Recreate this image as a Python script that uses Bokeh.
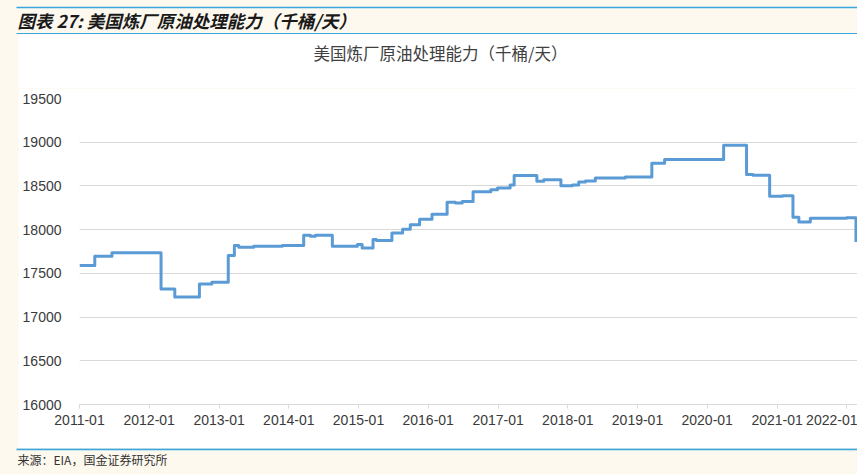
import pandas as pd
from bokeh.plotting import figure
from bokeh.layouts import column, row
from bokeh.models import (Range1d, FixedTicker, DatetimeTickFormatter, Spacer,
                          ColumnDataSource)
from bokeh.core.properties import value
from bokeh.embed import file_html
from bokeh.resources import INLINE

# ---------------- data ----------------
header_title = "图表 27: 美国炼厂原油处理能力（千桶/天）"
chart_title = "美国炼厂原油处理能力（千桶/天）"
source_note = "来源：EIA，国金证券研究所"

# dates at which the weekly capacity series changes level, and the new level (kb/d)
change_dates = [
    "2011-01-01", "2011-03-22", "2011-06-20", "2012-03-03", "2012-05-14",
    "2012-09-20", "2012-11-24", "2013-02-18", "2013-03-22", "2013-04-14",
    "2013-07-01", "2013-11-28", "2014-03-20", "2014-04-24", "2014-05-20",
    "2014-08-17", "2014-12-26", "2015-01-20", "2015-03-18", "2015-04-05",
    "2015-06-25", "2015-08-20", "2015-09-29", "2015-11-17", "2016-01-21",
    "2016-04-09", "2016-05-23", "2016-06-27", "2016-08-23", "2016-11-24",
    "2016-12-29", "2017-03-05", "2017-03-26", "2017-07-23", "2017-08-28",
    "2017-11-26", "2018-01-25", "2018-02-27", "2018-04-03", "2018-05-25",
    "2018-10-29", "2019-03-17", "2019-05-23", "2020-03-27", "2020-07-25",
    "2020-08-28", "2020-11-23", "2021-01-29", "2021-03-25", "2021-04-25",
    "2021-06-24", "2021-12-30", "2022-02-18",
]
capacity = [
    17590, 17695, 17735, 17320, 17230,
    17377, 17397, 17705, 17819, 17800,
    17810, 17820, 17935, 17925, 17935,
    17811, 17830, 17790, 17887, 17876,
    17962, 18005, 18055, 18120, 18177,
    18314, 18305, 18322, 18434, 18457,
    18476, 18512, 18619, 18554, 18572,
    18503, 18512, 18546, 18555, 18590,
    18602, 18760, 18802, 18965, 18630,
    18622, 18381, 18388, 18142, 18088,
    18131, 18135, 17860,
]

y_ticks = [16000, 16500, 17000, 17500, 18000, 18500, 19000, 19500]
x_tick_labels = ["2011-01", "2012-01", "2013-01", "2014-01", "2015-01", "2016-01",
                 "2017-01", "2018-01", "2019-01", "2020-01", "2021-01", "2022-01"]
x_start = "2011-01-01"
x_end = "2022-02-26"


def to_ms(dates):
    idx = pd.to_datetime(dates)
    return list((idx - pd.Timestamp("1970-01-01")) / pd.Timedelta(milliseconds=1))


# ---------------- styles ----------------
CREAM = "#FDF9EF"
RULE_BLUE = "#3AA6DD"
LINE_BLUE = "#5B9BD5"
GRID = "#D9D9D9"
TEXT = "#3A3A3A"
W = 857
STRIP = 18
MAIN_W = W - STRIP
LEFT = 61   # left border of the chart frames inside the white panel


def blank_fig(width, height, bg, left=0):
    f = figure(width=width, height=height, x_range=Range1d(left, width),
               y_range=Range1d(height, 0), output_backend="svg",
               toolbar_location=None, x_axis_location=None, y_axis_location=None,
               min_border=0, min_border_left=left, outline_line_color=None,
               background_fill_color=bg, border_fill_color=bg)
    f.grid.visible = False
    return f


# ---------------- header ----------------
hdr = blank_fig(W, 34, CREAM)
hdr.segment(x0=[16], x1=[W], y0=[7], y1=[7], line_color=RULE_BLUE, line_width=1.5)
hdr.segment(x0=[16], x1=[W], y0=[33], y1=[33], line_color=RULE_BLUE, line_width=1)
hdr.text(x=[17], y=[20], text=[header_title], text_font=value("Noto Sans CJK SC"),
         text_font_style="bold italic", text_font_size="17.5px",
         text_baseline="middle", text_align="left", text_color="#1A1A1A")

# ---------------- chart title strip (x in panel pixels) ----------------
ttl = blank_fig(MAIN_W, 54, "white", left=LEFT)
ttl.text(x=[422], y=[18.5], text=[chart_title], text_font=value("Noto Sans CJK SC"),
         text_font_size="16.5px", text_baseline="middle", text_align="center",
         text_color="#404040")

# ---------------- main chart ----------------
ms = to_ms(change_dates)
src = ColumnDataSource(dict(date=ms, cap=capacity))

p = figure(width=MAIN_W, height=360, x_axis_type="datetime",
           x_range=Range1d(to_ms([x_start])[0], to_ms([x_end])[0]),
           y_range=Range1d(y_ticks[0], y_ticks[-1]),
           output_backend="svg", toolbar_location=None,
           min_border_left=LEFT, min_border_right=0, min_border_top=10,
           min_border_bottom=44, outline_line_color=None,
           background_fill_color="white", border_fill_color="white")

p.step(x="date", y="cap", source=src, mode="after", line_color=LINE_BLUE,
       line_width=3, line_join="round")

p.xgrid.visible = False
p.ygrid.grid_line_color = GRID
p.ygrid.grid_line_width = 1
p.yaxis.ticker = FixedTicker(ticks=y_ticks)
p.xaxis.ticker = FixedTicker(ticks=to_ms([l + "-01" for l in x_tick_labels]))
fmt = "%Y-%m"
p.xaxis.formatter = DatetimeTickFormatter(years=fmt, months=fmt, days=fmt, hours=fmt,
                                          hourmin=fmt, minutes=fmt, minsec=fmt,
                                          seconds=fmt, milliseconds=fmt,
                                          microseconds=fmt)

for ax in (p.xaxis, p.yaxis):
    ax.major_label_text_font = "Liberation Sans"
    ax.major_label_text_font_size = "14px"
    ax.major_label_text_color = TEXT
    ax.minor_tick_line_color = None

p.yaxis.axis_line_color = None
p.yaxis.major_tick_line_color = None
p.yaxis.major_tick_out = 0
p.yaxis.major_tick_in = 0
p.yaxis.major_label_standoff = 18

p.xaxis.axis_line_color = GRID
p.xaxis.major_tick_line_color = GRID
p.xaxis.major_tick_out = 4
p.xaxis.major_tick_in = 0
p.xaxis.major_label_standoff = 6

strip = Spacer(width=STRIP, height=414, styles={"background-color": CREAM})

# ---------------- footer ----------------
ftr = blank_fig(W, 26, CREAM)
ftr.segment(x0=[16], x1=[W], y0=[0.8], y1=[0.8], line_color=RULE_BLUE, line_width=2)
ftr.text(x=[17], y=[10.5], text=[source_note], text_font=value("Noto Sans CJK SC"),
         text_font_size="12px", text_baseline="middle", text_align="left",
         text_color="#333333")

layout = column(hdr, row(strip, column(ttl, p, spacing=0), spacing=0), ftr, spacing=0)

html = file_html(layout, INLINE)
html = html.replace("<head>", "<head><style>body{background:%s;}</style>" % CREAM, 1)
open("out.html", "w").write(html)
